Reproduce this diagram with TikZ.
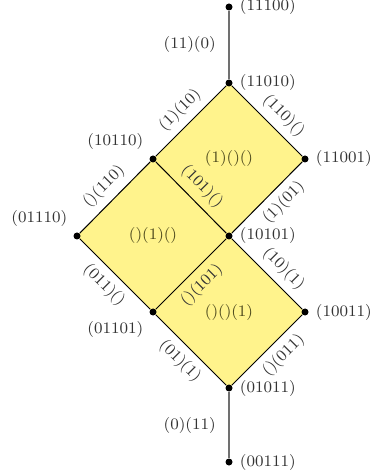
\documentclass[tikz,border=0pt]{standalone}
\usepackage{tikz}
\usetikzlibrary{backgrounds}
\definecolor{Stem}{HTML}{707070}
\definecolor{Face}{HTML}{FFF38C}
\definecolor{FaceText}{HTML}{4F4B1E}
\definecolor{Txt}{HTML}{333333}

\begin{document}
\begin{tikzpicture}[
 x=0.5pt,y=-0.5pt,
 font=\footnotesize,
 every label/.style={text=Txt},
 v/.style={circle,fill=black,inner sep=0pt,minimum size=3.5pt,label distance=0.6pt},
 e/.style={draw=black,line width=0.5pt},
 s/.style={draw=Stem,line width=0.7pt},
 el/.style={sloped,text=Txt,inner sep=3.5pt},
 fc/.style={text=FaceText}
]
\useasboundingbox (0,0) rectangle (370,474);
\node[v,label={right:(11100)}] (n11100) at (229,7) {};
\node[v,label={right:(11010)}] (n11010) at (229,83) {};
\node[v,label={above left:(10110)}] (n10110) at (153,159) {};
\node[v,label={right:(11001)}] (n11001) at (305,159) {};
\node[v,label={above left:(01110)}] (n01110) at (77,236) {};
\node[v,label={right:(10101)}] (n10101) at (229,236) {};
\node[v,label={below left:(01101)}] (n01101) at (153,312) {};
\node[v,label={right:(10011)}] (n10011) at (305,312) {};
\node[v,label={right:(01011)}] (n01011) at (229,388) {};
\node[v,label={right:(00111)}] (n00111) at (229,462) {};
% yellow faces
\begin{scope}[on background layer]
\fill[Face] (n11010.center)--(n10110.center)--(n10101.center)--(n11001.center)--cycle;
\fill[Face] (n10110.center)--(n01110.center)--(n01101.center)--(n10101.center)--cycle;
\fill[Face] (n10101.center)--(n01101.center)--(n01011.center)--(n10011.center)--cycle;
\end{scope}
\node[fc] (f100) at (229,159) {(1)()()};
\node[fc] (f010) at (153,236) {()(1)()};
\node[fc] (f001) at (229,312) {()()(1)};
\draw[s] (n11100)--node[left=3pt,text=Txt]{(11)(0)}(n11010);
\draw[e] (n10110)--node[el,above]{(1)(10)}(n11010);\draw[e] (n11010)--node[el,above,pos=0.58]{(110)()}(n11001);
\draw[e] (n01110)--node[el,above]{()(110)}(n10110);\draw[e] (n10110)--node[el,above]{(101)()}(n10101);
\draw[e] (n10101)--node[el,below,pos=0.58]{(1)(01)}(n11001);\draw[e] (n01110)--node[el,below]{(011)()}(n01101);
\draw[e] (n01101)--node[el,below]{()(101)}(n10101);\draw[e] (n10101)--node[el,above,pos=0.58]{(10)(1)}(n10011);
\draw[e] (n01011)--node[el,below,pos=0.58]{()(011)}(n10011);\draw[e] (n01101)--node[el,below]{(01)(1)}(n01011);
\draw[s] (n01011)--node[left=3pt,text=Txt]{(0)(11)}(n00111);
\end{tikzpicture}
\end{document}
